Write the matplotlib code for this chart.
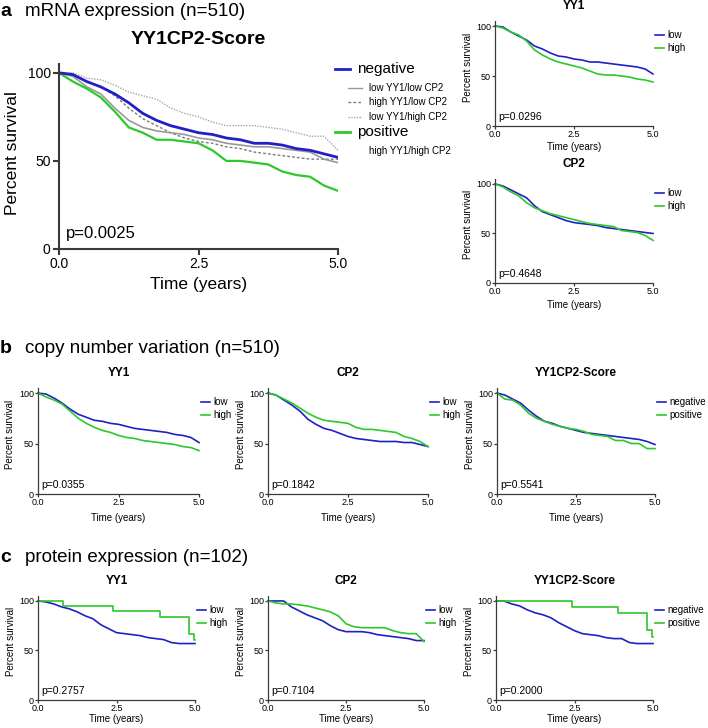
import matplotlib
matplotlib.use('Agg')
import matplotlib.pyplot as plt
from matplotlib.lines import Line2D

plt.rcParams['font.family'] = ['Liberation Sans', 'DejaVu Sans']

# time grid (years) the curves were read at
t_grid = [0, 0.25, 0.5, 0.75, 1.0, 1.25, 1.5, 1.75, 2.0, 2.25, 2.5,
          2.75, 3.0, 3.25, 3.5, 3.75, 4.0, 4.25, 4.5, 4.75, 5.0]

# a) mRNA expression, YY1CP2-Score
a_neg = [100, 99, 95, 92, 88, 83, 77, 73, 70, 68, 66, 65, 63, 62, 60, 60, 59, 57, 56, 54, 52]
a_pos = [100, 95, 91, 86, 78, 69, 66, 62, 62, 61, 60, 56, 50, 50, 49, 48, 44, 42, 41, 36, 33]
a_lowlow = [100, 98, 92, 88, 80, 73, 69, 67, 66, 65, 63, 62, 60, 59, 58, 58, 57, 56, 55, 51, 49]
a_highlow = [100, 99, 95, 92, 87, 80, 74, 70, 66, 63, 61, 60, 58, 57, 55, 54, 53, 52, 51, 51, 51]
a_lowhigh = [100, 100, 97, 96, 93, 89, 87, 85, 80, 77, 75, 72, 70, 70, 70, 69, 68, 66, 64, 64, 56]
# a) YY1 / CP2
a_yy1_low = [100, 99, 94, 90, 86, 80, 77, 73, 70, 69, 67, 66, 64, 64, 63, 62, 61, 60, 59, 57, 52]
a_yy1_high = [100, 98, 94, 91, 85, 76, 71, 67, 64, 62, 60, 58, 55, 52, 51, 51, 50, 49, 47, 46, 44]
a_cp2_low = [100, 98, 94, 90, 86, 78, 72, 69, 66, 63, 61, 60, 59, 58, 56, 55, 54, 53, 52, 51, 50]
a_cp2_high = [100, 97, 92, 88, 81, 76, 73, 70, 68, 66, 64, 62, 60, 59, 58, 57, 53, 52, 51, 48, 43]

# b) copy number variation
b_yy1_low = [100, 99, 95, 90, 84, 79, 76, 73, 72, 70, 69, 67, 65, 64, 63, 62, 61, 59, 58, 56, 51]
b_yy1_high = [100, 96, 93, 89, 82, 75, 70, 66, 63, 61, 58, 56, 55, 53, 52, 51, 50, 49, 47, 46, 43]
b_cp2_low = [100, 98, 93, 88, 82, 74, 69, 65, 63, 60, 57, 55, 54, 53, 52, 52, 52, 51, 51, 49, 47]
b_cp2_high = [100, 98, 94, 90, 85, 80, 76, 73, 72, 71, 70, 66, 64, 64, 63, 62, 61, 57, 55, 52, 47]
b_sc_neg = [100, 98, 94, 90, 83, 77, 72, 70, 67, 65, 63, 61, 60, 59, 58, 57, 56, 55, 54, 52, 49]
b_sc_pos = [100, 94, 93, 88, 80, 75, 72, 69, 67, 65, 64, 62, 59, 58, 57, 53, 53, 50, 50, 45, 45]

# c) protein expression
c_yy1_low = [100, 99, 97, 94, 92, 89, 85, 82, 76, 72, 68, 67, 66, 65, 63, 62, 61, 58, 57, 57, 57]
c_yy1_high_t = [0, 0.8, 2.4, 3.9, 4.8, 4.98, 5.0]
c_yy1_high = [100, 95, 90, 84, 67, 61, 61]
c_cp2_low = [100, 100, 100, 94, 90, 86, 83, 80, 75, 71, 69, 69, 69, 68, 66, 65, 64, 63, 62, 60, 60]
c_cp2_high = [100, 98, 97, 97, 96, 95, 93, 91, 89, 85, 77, 74, 73, 73, 73, 73, 70, 68, 67, 67, 59]
c_sc_neg = [100, 100, 97, 95, 91, 88, 86, 83, 78, 74, 70, 67, 66, 65, 63, 62, 62, 58, 57, 57, 57]
c_sc_pos_t = [0, 2.42, 3.9, 4.8, 4.98, 5.0]
c_sc_pos = [100, 94, 88, 71, 64, 64]

BLUE = '#2020c4'
GREEN = '#2cc82c'

W, H = 708, 728
fig = plt.figure(figsize=(W / 100, H / 100), dpi=100)


def add_ax(l, t, r, b):
    return fig.add_axes([l / W, 1 - b / H, (r - l) / W, (b - t) / H])


def ftext(x, y, s, **kw):
    fig.text(x / W, 1 - y / H, s, **kw)


def fline(x0, x1, y, **kw):
    fig.add_artist(Line2D([x0 / W, x1 / W], [1 - y / H, 1 - y / H], **kw))


def style(ax, big=False):
    ax.set_xlim(0, 5)
    ax.set_ylim(0, 105)
    ax.set_xticks([0, 2.5, 5])
    ax.set_xticklabels(['0.0', '2.5', '5.0'])
    ax.set_yticks([0, 50, 100])
    for s in ['top', 'right']:
        ax.spines[s].set_visible(False)
    lw = 1.5 if big else 0.9
    for s in ['left', 'bottom']:
        ax.spines[s].set_linewidth(lw)
        ax.spines[s].set_color('#3a3a3a')
    ax.tick_params(direction='out', width=lw, length=4 if big else 2,
                   labelsize=10 if big else 6.5, pad=2 if big else 1,
                   color='#3a3a3a')


def small_panel(l, t, r, b, title, curves, labels, pval, xl_y):
    ax = add_ax(l, t, r, b)
    for (tt, yy, c, ds) in curves:
        ax.plot(tt, yy, color=c, lw=1.2, drawstyle=ds, clip_on=False)
    style(ax)
    ax.set_ylabel('Percent survival', fontsize=7)
    ax.yaxis.set_label_coords(-0.14, 0.56)
    ax.set_xlabel('Time (years)', fontsize=7, va='center')
    ax.xaxis.set_label_coords(0.5, (b - xl_y) / (b - t))
    ax.text(0.1, 9, pval, fontsize=7.5, va='center')
    ftext((l + r) / 2, t - 15, title, fontsize=8.5, fontweight='bold',
          ha='center', va='center')
    for i, (lab, c) in enumerate(zip(labels, [BLUE, GREEN])):
        y = t + 14 + 13 * i
        fline(r + 2, r + 11, y, color=c, lw=1.2)
        ftext(r + 14, y, lab, fontsize=7, va='center')
    return ax


# ---- a: big panel
ax = add_ax(59, 64, 338, 249)
ax.plot(t_grid, a_lowhigh, color='#a8a8a8', lw=1.0, ls=(0, (1, 1)))
ax.plot(t_grid, a_highlow, color='#7a7a7a', lw=1.0, ls=(0, (2, 1.5)))
ax.plot(t_grid, a_lowlow, color='#999999', lw=1.2)
ax.plot(t_grid, a_pos, color=GREEN, lw=1.6)
ax.plot(t_grid, a_neg, color=BLUE, lw=2.0)
style(ax, big=True)
ax.set_ylabel('Percent survival', fontsize=12.5)
ax.yaxis.set_label_coords(-0.14, 0.52)
ax.set_xlabel('Time (years)', fontsize=12.5, va='center')
ax.xaxis.set_label_coords(0.5, (249 - 285) / 185)
ax.text(0.12, 9, 'p=0.0025', fontsize=12, va='center')
ftext(198, 40, 'YY1CP2-Score', fontsize=14, fontweight='bold', ha='center', va='center')

# legend of the big panel
fline(335, 350, 69, color=BLUE, lw=2.0)
ftext(357, 69, 'negative', fontsize=11, va='center')
fline(348, 362, 88, color='#999999', lw=1.0)
ftext(369, 88, 'low YY1/low CP2', fontsize=7, va='center')
fline(348, 362, 102, color='#7a7a7a', lw=1.0, ls=(0, (2, 1.5)))
ftext(369, 102, 'high YY1/low CP2', fontsize=7, va='center')
fline(348, 362, 117, color='#a8a8a8', lw=1.0, ls=(0, (1, 1)))
ftext(369, 117, 'low YY1/high CP2', fontsize=7, va='center')
fline(335, 350, 132, color=GREEN, lw=2.0)
ftext(357, 132, 'positive', fontsize=11, va='center')
ftext(369, 151, 'high YY1/high CP2', fontsize=7, va='center')

# headings
ftext(0, 12, 'a', fontsize=14, fontweight='bold', va='center')
ftext(25, 12, 'mRNA expression (n=510)', fontsize=13.5, va='center')
ftext(0, 348, 'b', fontsize=14, fontweight='bold', va='center')
ftext(25, 348, 'copy number variation (n=510)', fontsize=13.5, va='center')
ftext(0, 557, 'c', fontsize=14, fontweight='bold', va='center')
ftext(25, 557, 'protein expression (n=102)', fontsize=13.5, va='center')

# ---- a: small panels
small_panel(495, 21, 653, 126, 'YY1',
            [(t_grid, a_yy1_low, BLUE, 'default'), (t_grid, a_yy1_high, GREEN, 'default')],
            ['low', 'high'], 'p=0.0296', 147)
small_panel(495, 179, 653, 283, 'CP2',
            [(t_grid, a_cp2_low, BLUE, 'default'), (t_grid, a_cp2_high, GREEN, 'default')],
            ['low', 'high'], 'p=0.4648', 305)

# ---- b
small_panel(38, 388, 199, 494, 'YY1',
            [(t_grid, b_yy1_low, BLUE, 'default'), (t_grid, b_yy1_high, GREEN, 'default')],
            ['low', 'high'], 'p=0.0355', 518)
small_panel(268, 388, 428, 494, 'CP2',
            [(t_grid, b_cp2_low, BLUE, 'default'), (t_grid, b_cp2_high, GREEN, 'default')],
            ['low', 'high'], 'p=0.1842', 518)
small_panel(497, 388, 655, 494, 'YY1CP2-Score',
            [(t_grid, b_sc_neg, BLUE, 'default'), (t_grid, b_sc_pos, GREEN, 'default')],
            ['negative', 'positive'], 'p=0.5541', 518)

# ---- c
small_panel(38, 596, 195, 700, 'YY1',
            [(t_grid, c_yy1_low, BLUE, 'default'), (c_yy1_high_t, c_yy1_high, GREEN, 'steps-post')],
            ['low', 'high'], 'p=0.2757', 719)
small_panel(268, 596, 424, 700, 'CP2',
            [(t_grid, c_cp2_low, BLUE, 'default'), (t_grid, c_cp2_high, GREEN, 'default')],
            ['low', 'high'], 'p=0.7104', 719)
small_panel(496, 596, 653, 700, 'YY1CP2-Score',
            [(t_grid, c_sc_neg, BLUE, 'default'), (c_sc_pos_t, c_sc_pos, GREEN, 'steps-post')],
            ['negative', 'positive'], 'p=0.2000', 719)

fig.savefig('out.png', dpi=100)
